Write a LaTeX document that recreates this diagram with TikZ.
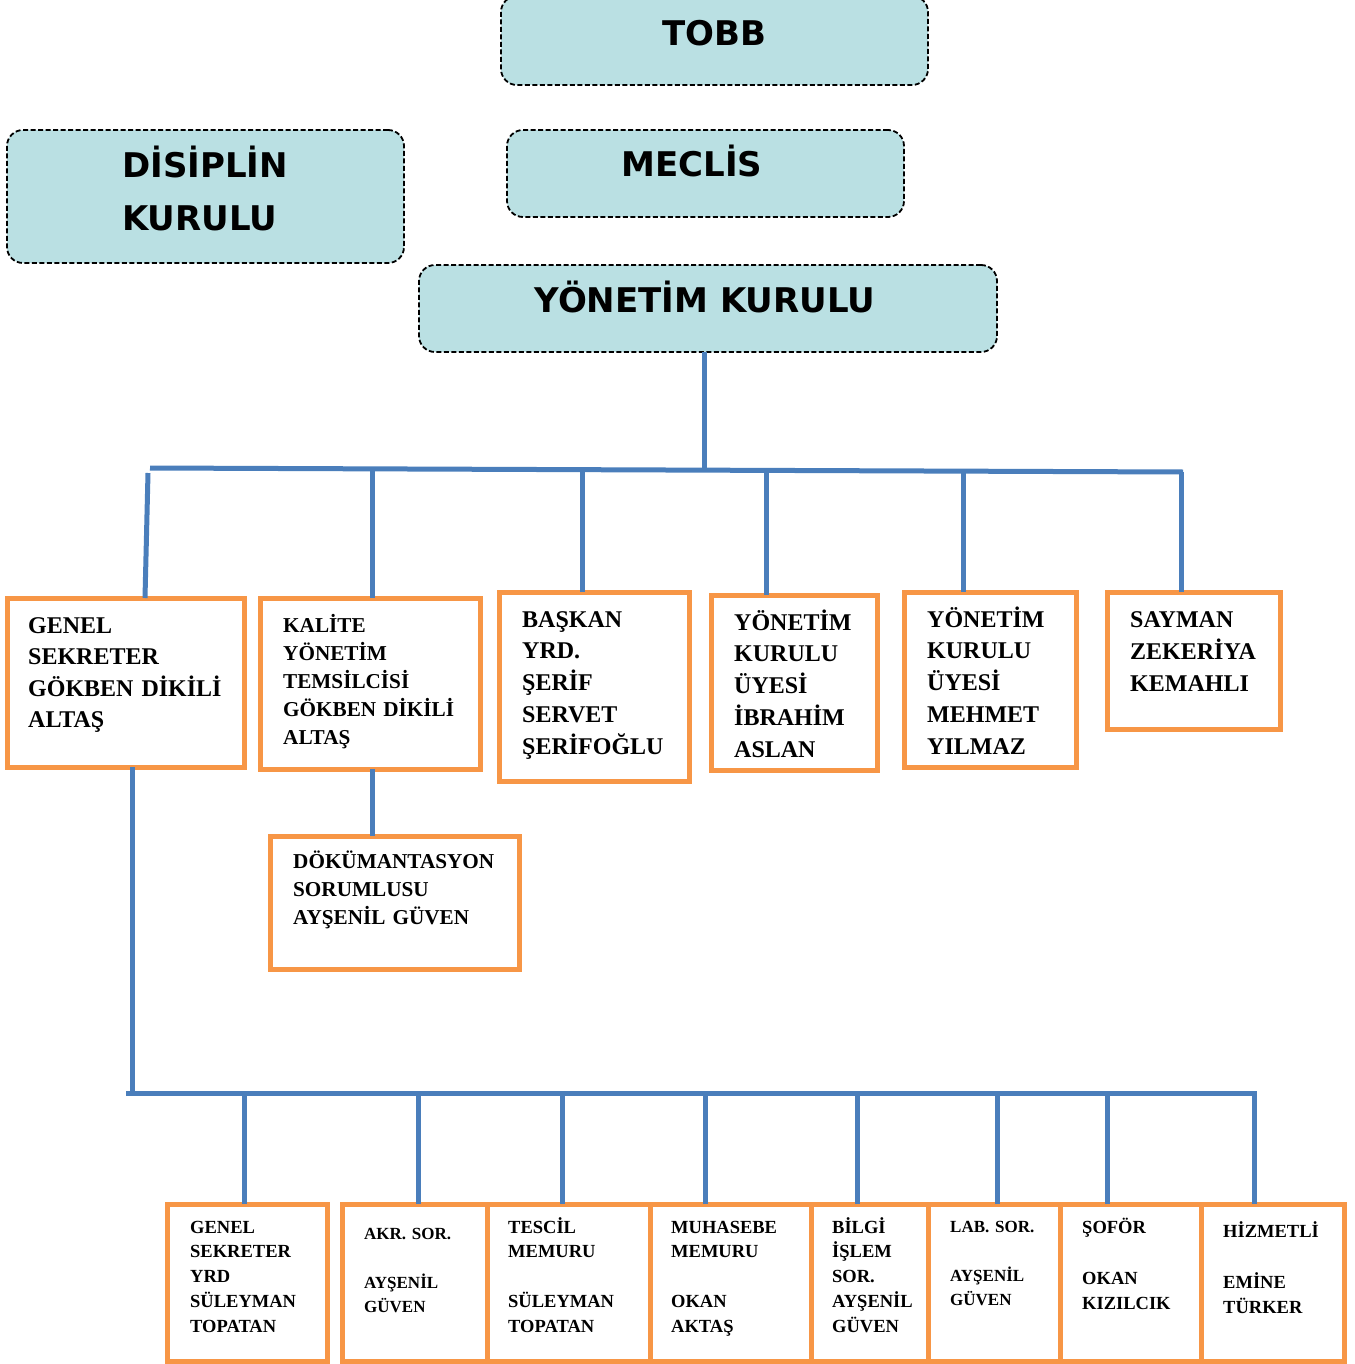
\documentclass[tikz,border=0pt]{standalone}
\usepackage{fontspec}
\setmainfont{Liberation Serif}
\newfontfamily\headfont{DejaVu Sans}
\usetikzlibrary{calc}
\definecolor{headfill}{RGB}{186,224,227}
\definecolor{linkblue}{RGB}{74,126,187}
\definecolor{boxorange}{RGB}{247,150,70}

\begin{document}
\begin{tikzpicture}[x=1pt,y=-1pt,
  headbox/.style={draw=black, fill=headfill, line width=1.8pt,
    dash pattern=on 5pt off 2.5pt, rounded corners=16pt,
    outer sep=0pt, inner sep=0pt, anchor=north west},
  headtext/.style={font=\headfont\bfseries\fontsize{34}{53}\selectfont,
    inner sep=0pt},
  staffbox/.style={draw=boxorange, fill=white, line width=5pt,
    outer sep=0pt, inner sep=0pt, anchor=north west},
  bigtext/.style={inner sep=0pt, anchor=base west, align=left, text width=260pt,
    font=\bfseries\fontsize{24}{31.75}\selectfont},
  midtext/.style={inner sep=0pt, anchor=base west, align=left, text width=260pt,
    font=\bfseries\fontsize{21.2}{28.2}\selectfont},
  smalltext/.style={inner sep=0pt, anchor=base west, align=left, text width=160pt,
    font=\bfseries\fontsize{18.5}{24.75}\selectfont},
  tinytext/.style={inner sep=0pt, anchor=base west, align=left, text width=160pt,
    font=\bfseries\fontsize{17}{24.5}\selectfont},
  link/.style={draw=linkblue, line width=5pt}
]
\useasboundingbox (0,0) rectangle (1354,1364);

% ---- governing bodies ----
\node[headbox, minimum width=427pt, minimum height=89pt] (tobb) at (501,-4) {};
\node[headtext, anchor=base] (tobbt) at (714,45.5) {TOBB};

\node[headbox, minimum width=397pt, minimum height=133pt] (dis) at (7,130) {};
\node[headtext, anchor=base west, align=left, text width=300pt] (dist) at (122,178)
  {DİSİPLİN\\KURULU};

\node[headbox, minimum width=397pt, minimum height=87pt] (mec) at (507,130) {};
\node[headtext, anchor=base] (mect) at (692,177) {MECLİS};

\node[headbox, minimum width=578pt, minimum height=87pt] (yk) at (419,265) {};
\node[headtext, anchor=base] (ykt) at (705,312.5) {YÖNETİM KURULU};

% ---- first staff row ----
\node[staffbox, minimum width=237pt, minimum height=169pt] (gs) at (7,598) {};
\node[bigtext, font=\bfseries\fontsize{24}{31.5}\selectfont] (gst) at (28,633)
  {GENEL\\SEKRETER\\GÖKBEN DİKİLİ\\ALTAŞ};

\node[staffbox, minimum width=220pt, minimum height=171pt] (kal) at (260,598) {};
\node[midtext] (kalt) at (283,632)
  {KALİTE\\YÖNETİM\\TEMSİLCİSİ\\GÖKBEN DİKİLİ\\ALTAŞ};

\node[staffbox, minimum width=190pt, minimum height=189pt] (bas) at (499,592) {};
\node[bigtext] (bast) at (522,627)
  {BAŞKAN\\YRD.\\ŞERİF\\SERVET\\ŞERİFOĞLU};

\node[staffbox, minimum width=166pt, minimum height=175pt] (uy1) at (711,595) {};
\node[bigtext] (uy1t) at (734,630)
  {YÖNETİM\\KURULU\\ÜYESİ\\İBRAHİM\\ASLAN};

\node[staffbox, minimum width=172pt, minimum height=175pt] (uy2) at (904,592) {};
\node[bigtext] (uy2t) at (927,627)
  {YÖNETİM\\KURULU\\ÜYESİ\\MEHMET\\YILMAZ};

\node[staffbox, minimum width=173pt, minimum height=137pt] (say) at (1107,592) {};
\node[bigtext, font=\bfseries\fontsize{24}{32}\selectfont] (sayt) at (1130,627)
  {SAYMAN\\ZEKERİYA\\KEMAHLI};

\node[staffbox, minimum width=249pt, minimum height=133pt] (dok) at (270,836) {};
\node[midtext, font=\bfseries\fontsize{21.2}{28}\selectfont] (dokt) at (293,868)
  {DÖKÜMANTASYON\\SORUMLUSU\\AYŞENİL GÜVEN};

% ---- second staff row ----
\node[staffbox, minimum width=160pt, minimum height=157pt] (gsy) at (167,1204) {};
\node[smalltext] (gsyt) at (190,1233)
  {GENEL\\SEKRETER\\YRD\\SÜLEYMAN\\TOPATAN};

\node[staffbox, minimum width=145pt, minimum height=157pt] (akr) at (342,1204) {};
\node[tinytext] (akrt) at (364,1239)
  {AKR. SOR.\\[24.5pt]AYŞENİL\\GÜVEN};

\node[staffbox, minimum width=163pt, minimum height=157pt] (tes) at (487,1204) {};
\node[smalltext] (test) at (508,1233)
  {TESCİL\\MEMURU\\[24.75pt]SÜLEYMAN\\TOPATAN};

\node[staffbox, minimum width=161pt, minimum height=157pt] (muh) at (650,1204) {};
\node[smalltext] (muht) at (671,1233)
  {MUHASEBE\\MEMURU\\[24.75pt]OKAN\\AKTAŞ};

\node[staffbox, minimum width=117pt, minimum height=157pt] (bil) at (811,1204) {};
\node[smalltext] (bilt) at (832,1233)
  {BİLGİ\\İŞLEM\\SOR.\\AYŞENİL\\GÜVEN};

\node[staffbox, minimum width=132pt, minimum height=157pt] (lab) at (928,1204) {};
\node[tinytext] (labt) at (950,1232)
  {LAB. SOR.\\[24.5pt]AYŞENİL\\GÜVEN};

\node[staffbox, minimum width=141pt, minimum height=157pt] (sof) at (1060,1204) {};
\node[smalltext, font=\bfseries\fontsize{18.5}{25.5}\selectfont] (soft) at (1082,1233)
  {ŞOFÖR\\[25.5pt]OKAN\\KIZILCIK};

\node[staffbox, minimum width=143pt, minimum height=157pt] (hiz) at (1201,1204) {};
\node[smalltext, font=\bfseries\fontsize{18.5}{25.5}\selectfont] (hizt) at (1223,1237)
  {HİZMETLİ\\[25.5pt]EMİNE\\TÜRKER};

% ---- upper bus ----
\coordinate (ubL) at (150,468);
\coordinate (ubR) at (1183,472);
\coordinate (ykdrop) at (704,469.9);
\coordinate (u1) at (148,473);
\coordinate (u1b) at (145,0);
\coordinate (u2) at (372,468.9);
\coordinate (u3) at (582,469.7);
\coordinate (u4) at (766,470.4);
\coordinate (u5) at (963,471.2);
\coordinate (u6) at (1181,472);

\draw[link] (yk.south -| ykdrop) -- (ykdrop);
\draw[link] (ubL) -- (ubR);
\draw[link] (u1) -- (u1b |- gs.north);
\draw[link] (u2) -- (u2 |- kal.north);
\draw[link] (u3) -- (u3 |- bas.north);
\draw[link] (u4) -- (u4 |- uy1.north);
\draw[link] (u5) -- (u5 |- uy2.north);
\draw[link] (u6) -- (u6 |- say.north);
\draw[link] (u2 |- kal.south) -- (u2 |- dok.north);

% ---- lower bus ----
\coordinate (gsdrop) at (132,1093);
\coordinate (lbL) at (126,1093);
\coordinate (lbR) at (1256.5,1093);
\draw[link] (gsdrop |- gs.south) -- (gsdrop);
\draw[link] (lbL) -- (lbR);
\foreach \xx/\tgt in {244/gsy, 418/akr, 562/tes, 705/muh, 857/bil, 997/lab, 1107/sof, 1254/hiz}{
  \draw[link] (\xx,1093) -- (\xx,0 |- \tgt.north);
}
\end{tikzpicture}
\end{document}
